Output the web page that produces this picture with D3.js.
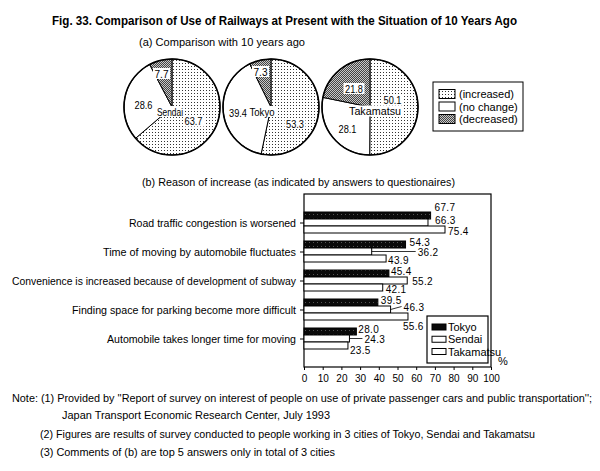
<!DOCTYPE html>
<html><head><meta charset="utf-8">
<script src="https://cdn.jsdelivr.net/npm/d3@7"></script>
<style>body{margin:0;background:#fff}svg{font-family:"Liberation Sans",Arial,sans-serif}</style>
</head><body>
<svg id="c" width="600" height="471"></svg>
<script>
// ---------- data ----------
const cities = ["Sendai", "Tokyo", "Takamatsu"];
const pieStatus = ["(increased)", "(no change)", "(decreased)"];
const pieIncreased = [63.7, 53.3, 50.1];
const pieNoChange = [28.6, 39.4, 28.1];
const pieDecreased = [7.7, 7.3, 21.8];

const reasons = [
  "Road traffic congestion is worsened",
  "Time of moving by automobile fluctuates",
  "Convenience is increased because of development of subway",
  "Finding space for parking become more difficult",
  "Automobile takes longer time for moving"
];
const barSeries = ["Tokyo", "Sendai", "Takamatsu"];
const tokyoVals = [67.7, 54.3, 45.4, 39.5, 28.0];
const sendaiVals = [66.3, 36.2, 55.2, 46.3, 24.3];
const takamatsuVals = [75.4, 43.9, 42.1, 55.6, 23.5];
const xTicks = [0, 10, 20, 30, 40, 50, 60, 70, 80, 90, 100];

const titleText = "Fig. 33. Comparison of Use of Railways at Present with the Situation of 10 Years Ago";
const subA = "(a) Comparison with 10 years ago";
const subB = "(b) Reason of increase (as indicated by answers to questionaires)";
const notes = [
  "Note: (1) Provided by ''Report of survey on interest of people on use of private passenger cars and public transportation'';",
  "Japan Transport Economic Research Center, July 1993",
  "(2) Figures are results of survey conducted to people working in 3 cities of Tokyo, Sendai and Takamatsu",
  "(3) Comments of (b) are top 5 answers only in total of 3 cities"
];

// ---------- layout (not data) ----------
const svg = d3.select("#c");
const defs = svg.append("defs");
const pDot = defs.append("pattern").attr("id", "dots").attr("patternUnits", "userSpaceOnUse").attr("width", 3).attr("height", 3);
pDot.append("rect").attr("width", 3).attr("height", 3).attr("fill", "#fff");
pDot.append("rect").attr("x", 1).attr("y", 1).attr("width", 1).attr("height", 1).attr("fill", "#333");
const pGray = defs.append("pattern").attr("id", "gray").attr("patternUnits", "userSpaceOnUse").attr("width", 2).attr("height", 2);
pGray.append("rect").attr("width", 2).attr("height", 2).attr("fill", "#c8c8c8");
pGray.append("rect").attr("width", 1).attr("height", 1).attr("fill", "#444");
pGray.append("rect").attr("x", 1).attr("y", 1).attr("width", 1).attr("height", 1).attr("fill", "#444");
const pBlack = defs.append("pattern").attr("id", "blk").attr("patternUnits", "userSpaceOnUse").attr("width", 4).attr("height", 4);
pBlack.append("rect").attr("width", 4).attr("height", 4).attr("fill", "#0a0a0a");
pBlack.append("rect").attr("x", 1).attr("y", 2).attr("width", 1).attr("height", 1).attr("fill", "#555");
const statusFill = ["url(#dots)", "#fff", "url(#gray)"];

// Titles
svg.append("text").attr("x", 52).attr("y", 25).attr("font-size", 13).attr("font-weight", "bold")
  .attr("textLength", 465).attr("lengthAdjust", "spacingAndGlyphs").text(titleText);
svg.append("text").attr("x", 139).attr("y", 46).attr("font-size", 11)
  .attr("textLength", 166).attr("lengthAdjust", "spacingAndGlyphs").text(subA);

// ---------- pies ----------
const pieX = d3.scalePoint().domain(cities).range([172, 370]);
const pieY = 107, pieR = 48;
const pie = d3.pie().sort(null).value(d => d);
const arc = d3.arc().innerRadius(0).outerRadius(pieR);
// label offsets relative to pie centre: [increased, no change, decreased, name]
const pieLabelOff = {
  Sendai:    [[21.5, 14], [-28.5, -2.5], [-10.5, -33.5], [-2, 4.5]],
  Tokyo:     [[24, 16.5], [-33, 5.5], [-10.5, -35.5], [-9, 4.5]],
  Takamatsu: [[22.5, -7], [-22.5, 21.5], [-16, -18.5], [5, 4]]
};
const nameWidths = { Sendai: 26, Tokyo: 25, Takamatsu: 52 };
cities.forEach((city, i) => {
  const vals = [pieIncreased[i], pieNoChange[i], pieDecreased[i]];
  const g = svg.append("g").attr("transform", `translate(${pieX(city)},${pieY})`);
  g.selectAll("path").data(pie(vals)).join("path")
    .attr("d", arc).attr("fill", (d, j) => statusFill[j])
    .attr("stroke", "#000").attr("stroke-width", 1);
  g.append("circle").attr("r", pieR).attr("fill", "none").attr("stroke", "#000").attr("stroke-width", 1.6);
  const labs = vals.map(v => v.toFixed(1)).concat([city]);
  labs.forEach((t, j) => {
    const [dx, dy] = pieLabelOff[city][j];
    const w = j === 3 ? nameWidths[city] : (t.length === 3 ? 14 : 18);
    const tx = g.append("text").attr("x", dx - w / 2).attr("y", dy + 4)
      .attr("font-size", j === 3 ? 11.5 : 10.5)
      .attr("textLength", w).attr("lengthAdjust", "spacingAndGlyphs").text(t);
    g.append("rect")
      .attr("x", dx - w / 2 - 1.5).attr("y", dy - 5.5).attr("width", w + 3).attr("height", 11)
      .attr("fill", "#fff");
    tx.raise();
  });
});

// pie legend
const lg = svg.append("g");
lg.append("rect").attr("x", 433).attr("y", 82).attr("width", 90).attr("height", 49)
  .attr("fill", "#fff").attr("stroke", "#000").attr("stroke-width", 1);
const legY = d3.scalePoint().domain(pieStatus).range([94, 119]);
pieStatus.forEach((s, j) => {
  lg.append("rect").attr("x", 439).attr("y", legY(s) - 4.5).attr("width", 16).attr("height", 9)
    .attr("fill", statusFill[j]).attr("stroke", "#000").attr("stroke-width", 1);
  lg.append("text").attr("x", 459).attr("y", legY(s)).attr("dominant-baseline", "central")
    .attr("font-size", 11).text(s);
});

// ---------- bars ----------
svg.append("text").attr("x", 142).attr("y", 186).attr("font-size", 11)
  .attr("textLength", 313).attr("lengthAdjust", "spacingAndGlyphs").text(subB);

const x = d3.scaleLinear().domain([0, 100]).range([304, 491]);
const y = d3.scalePoint().domain(reasons).range([222.5, 338.5]);
const ySub = d3.scaleBand().domain(barSeries).range([-10.5, 10.5]);
const plotTop = 194, plotBottom = 367;
const seriesVals = [tokyoVals, sendaiVals, takamatsuVals];
const seriesFill = ["url(#blk)", "#fff", "#fff"];
const labelOff = [
  [[4, -5], [4, 1], [2, 1], [3, 1], [2, 1]],
  [[7, 1], [46, 4], [5, 4], [13, 1], [15, 4]],
  [[3, 5], [2, 5], [3, 5], [-5, 13], [2, 8]]
];
const leaders = { "1-1": true, "1-3": true, "1-4": true };

svg.append("rect").attr("x", x(0)).attr("y", plotTop).attr("width", x(100) - x(0))
  .attr("height", plotBottom - plotTop).attr("fill", "none").attr("stroke", "#000").attr("stroke-width", 1.2);

const bars = svg.append("g");
barSeries.forEach((s, si) => {
  seriesVals[si].forEach((v, ci) => {
    const cy = y(reasons[ci]) + ySub(s);
    bars.append("rect").attr("x", x(0)).attr("y", cy).attr("width", x(v) - x(0))
      .attr("height", ySub.bandwidth()).attr("fill", seriesFill[si]).attr("stroke", "#000").attr("stroke-width", 1);
  });
});
barSeries.forEach((s, si) => {
  seriesVals[si].forEach((v, ci) => {
    const mid = y(reasons[ci]) + ySub(s) + ySub.bandwidth() / 2;
    const [dx, dy] = labelOff[si][ci];
    if (leaders[si + "-" + ci]) {
      bars.append("line").attr("x1", x(v)).attr("y1", mid).attr("x2", x(v) + dx - 2)
        .attr("y2", mid + dy - 4).attr("stroke", "#000").attr("stroke-width", 0.8);
    }
    bars.append("text").attr("x", x(v) + dx).attr("y", mid + dy).attr("font-size", 10)
      .attr("letter-spacing", 0.3).text(v.toFixed(1));
  });
});

// axes
const xAxis = d3.axisBottom(x).tickValues(xTicks).tickSize(3).tickFormat(d3.format("d"));
const gx = svg.append("g").attr("transform", `translate(0,${plotBottom})`).call(xAxis);
gx.select(".domain").remove();
gx.selectAll("text").attr("font-size", 10).attr("font-family", "Liberation Sans, Arial, sans-serif").attr("dy", "0.9em");
gx.selectAll("line").attr("stroke", "#000");

const labelWidths = [167, 193, 284, 224, 189];
const yAxis = d3.axisLeft(y).tickSize(4).tickPadding(4);
const gy = svg.append("g").attr("transform", `translate(${x(0)},0)`).call(yAxis);
gy.select(".domain").remove();
gy.selectAll("line").attr("stroke", "#000");
gy.selectAll("text").attr("font-size", 11.5).attr("font-family", "Liberation Sans, Arial, sans-serif")
  .attr("textLength", (d, i) => labelWidths[i]).attr("lengthAdjust", "spacingAndGlyphs");

// bar legend
const bl = svg.append("g");
bl.append("rect").attr("x", 427).attr("y", 316).attr("width", 61).attr("height", 47)
  .attr("fill", "#fff").attr("stroke", "#000").attr("stroke-width", 1.2);
const blY = d3.scalePoint().domain(barSeries).range([327, 351.5]);
barSeries.forEach((s, si) => {
  bl.append("rect").attr("x", 432).attr("y", blY(s) - 3).attr("width", 14).attr("height", 6)
    .attr("fill", si === 0 ? "#0a0a0a" : "#fff").attr("stroke", "#000").attr("stroke-width", 1);
  bl.append("text").attr("x", 448).attr("y", blY(s)).attr("dominant-baseline", "central")
    .attr("font-size", 11).text(s);
});
svg.append("text").attr("x", 498).attr("y", 365).attr("font-size", 11).text("%");

// notes
const noteX = [12, 62, 40, 40];
const noteY = [402, 419, 438, 456];
const noteW = [580, 268, 495, 295];
notes.forEach((t, i) => {
  svg.append("text").attr("x", noteX[i]).attr("y", noteY[i]).attr("font-size", 11)
    .attr("textLength", noteW[i]).attr("lengthAdjust", "spacingAndGlyphs").text(t);
});
</script>
</body></html>
